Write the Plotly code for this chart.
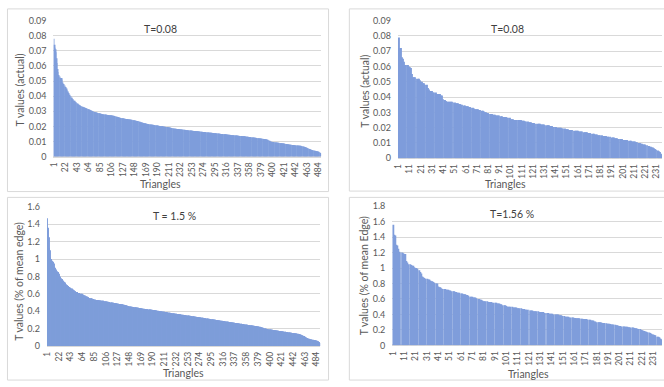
import plotly.graph_objects as go

# ---------------- data ----------------
# Top-left: T values (actual), ~488 triangles, T=0.08
t_actual_a = [
    0.078, 0.074, 0.072, 0.071, 0.069, 0.065, 0.062, 0.058, 0.056, 0.054,
    0.053, 0.053, 0.052, 0.052, 0.052, 0.051, 0.049, 0.048, 0.048, 0.047,
    0.047, 0.046, 0.045, 0.045, 0.044, 0.043, 0.043, 0.042, 0.041, 0.041,
    0.040, 0.040, 0.039, 0.039, 0.038, 0.038, 0.037, 0.037, 0.037, 0.0365,
    0.036, 0.036, 0.0355, 0.035, 0.035, 0.0345, 0.034, 0.034, 0.034, 0.0335,
    0.0333, 0.0331, 0.033, 0.0328, 0.0327, 0.0325, 0.0324, 0.0322, 0.0321, 0.032,
    0.0318, 0.0316, 0.0315, 0.0313, 0.0311, 0.031, 0.0308, 0.0306, 0.0305, 0.0303,
    0.0301, 0.030, 0.0298, 0.0297, 0.0295, 0.0294, 0.0293, 0.0292, 0.0291, 0.029,
    0.0289, 0.0288, 0.0287, 0.0286, 0.0285, 0.0284, 0.0283, 0.0282, 0.0281, 0.028,
    0.028, 0.0279, 0.0279, 0.0278, 0.0278, 0.0277, 0.0277, 0.0276, 0.0276, 0.0275,
    0.0275, 0.0274, 0.0274, 0.0273, 0.0273, 0.0272, 0.0272, 0.0271, 0.0271, 0.027,
    0.0269, 0.0268, 0.0266, 0.0265, 0.0264, 0.0263, 0.0262, 0.0261, 0.026, 0.0258,
    0.0257, 0.0257, 0.0256, 0.0255, 0.0254, 0.0254, 0.0253, 0.0252, 0.0251, 0.0251,
    0.025, 0.0249, 0.0249, 0.0248, 0.0248, 0.0247, 0.0246, 0.0246, 0.0245, 0.0245,
    0.0244, 0.0243, 0.0243, 0.0242, 0.0241, 0.0241, 0.024, 0.0239, 0.0238, 0.0237,
    0.0237, 0.0236, 0.0236, 0.0235, 0.0235, 0.0233, 0.0231, 0.023, 0.0228, 0.0227,
    0.0226, 0.0225, 0.0224, 0.0223, 0.0222, 0.0221, 0.022, 0.0219, 0.0218, 0.0217,
    0.0216, 0.0216, 0.0215, 0.0214, 0.0214, 0.0213, 0.0212, 0.0212, 0.0211, 0.0211,
    0.021, 0.021, 0.0209, 0.0209, 0.0208, 0.0207, 0.0207, 0.0206, 0.0206, 0.0205,
    0.0204, 0.0204, 0.0203, 0.0203, 0.0202, 0.0201, 0.0201, 0.020, 0.020, 0.0199,
    0.0198, 0.0198, 0.0197, 0.0197, 0.0196, 0.0196, 0.0195, 0.0195, 0.0194, 0.0194,
    0.0193, 0.0192, 0.0192, 0.0191, 0.019, 0.0189, 0.0188, 0.0187, 0.0186, 0.0185,
    0.0185, 0.0184, 0.0184, 0.0184, 0.0183, 0.0183, 0.0182, 0.0182, 0.0181, 0.0181,
    0.0181, 0.018, 0.018, 0.0179, 0.0179, 0.0178, 0.0178, 0.0177, 0.0177, 0.0176,
    0.0176, 0.0176, 0.0175, 0.0175, 0.0174, 0.0174, 0.0173, 0.0173, 0.0173, 0.0172,
    0.0172, 0.0171, 0.0171, 0.0171, 0.017, 0.017, 0.017, 0.0169, 0.0169, 0.0169,
    0.0168, 0.0168, 0.0167, 0.0167, 0.0166, 0.0166, 0.0166, 0.0165, 0.0165, 0.0164,
    0.0164, 0.0163, 0.0163, 0.0163, 0.0162, 0.0162, 0.0162, 0.0161, 0.0161, 0.016,
    0.016, 0.0159, 0.0159, 0.0158, 0.0158, 0.0158, 0.0157, 0.0157, 0.0157, 0.0156,
    0.0156, 0.0156, 0.0155, 0.0155, 0.0155, 0.0154, 0.0154, 0.0153, 0.0153, 0.0152,
    0.0152, 0.0151, 0.0151, 0.0151, 0.015, 0.015, 0.0149, 0.0149, 0.0149, 0.0148,
    0.0148, 0.0148, 0.0147, 0.0147, 0.0146, 0.0146, 0.0146, 0.0145, 0.0145, 0.0144,
    0.0144, 0.0143, 0.0143, 0.0143, 0.0142, 0.0142, 0.0142, 0.0141, 0.0141, 0.0141,
    0.014, 0.014, 0.0139, 0.0139, 0.0139, 0.0138, 0.0138, 0.0138, 0.0137, 0.0137,
    0.0137, 0.0136, 0.0136, 0.0136, 0.0135, 0.0135, 0.0135, 0.0134, 0.0134, 0.0133,
    0.0133, 0.0132, 0.0132, 0.0131, 0.0131, 0.013, 0.013, 0.0129, 0.0129, 0.0128,
    0.0128, 0.0127, 0.0127, 0.0126, 0.0126, 0.0125, 0.0125, 0.0124, 0.0124, 0.0123,
    0.0123, 0.0122, 0.0122, 0.0121, 0.0121, 0.012, 0.012, 0.0119, 0.0119, 0.0118,
    0.0118, 0.0118, 0.0117, 0.0117, 0.0116, 0.0116, 0.0115, 0.0114, 0.0113, 0.0112,
    0.0111, 0.011, 0.0107, 0.0104, 0.0101, 0.0099, 0.0098, 0.0098, 0.0097, 0.0097,
    0.0096, 0.0096, 0.0095, 0.0095, 0.0094, 0.0093, 0.0093, 0.0092, 0.0092, 0.0091,
    0.0091, 0.009, 0.009, 0.0089, 0.0089, 0.0088, 0.0088, 0.0087, 0.0087, 0.0086,
    0.0086, 0.0085, 0.0084, 0.0084, 0.0083, 0.0082, 0.0082, 0.0081, 0.008, 0.008,
    0.0079, 0.0079, 0.0078, 0.0078, 0.0077, 0.0077, 0.0076, 0.0076, 0.0075, 0.0075,
    0.0075, 0.0074, 0.0074, 0.0074, 0.0073, 0.0073, 0.0072, 0.0072, 0.0072, 0.0071,
    0.0071, 0.007, 0.0069, 0.0068, 0.0067, 0.0066, 0.0065, 0.0064, 0.0063, 0.0061,
    0.006, 0.0058, 0.0057, 0.0055, 0.0054, 0.0052, 0.005, 0.0048, 0.0047, 0.0045,
    0.0044, 0.0043, 0.0042, 0.0041, 0.004, 0.0039, 0.0038, 0.0037, 0.0037, 0.0036,
    0.0035, 0.0034, 0.0033, 0.0032, 0.003, 0.0027, 0.0024, 0.002,
]

# Top-right: T values (actual), ~238 triangles, T=0.08
t_actual_b = [
    0.079, 0.072, 0.072, 0.066, 0.065, 0.063, 0.061, 0.061, 0.061, 0.060,
    0.0595, 0.059, 0.055, 0.053, 0.053, 0.053, 0.052, 0.052, 0.052, 0.051,
    0.050, 0.050, 0.049, 0.049, 0.048, 0.048, 0.046, 0.045, 0.044, 0.044,
    0.044, 0.043, 0.043, 0.043, 0.042, 0.042, 0.042, 0.042, 0.041, 0.041,
    0.0385, 0.038, 0.0375, 0.037, 0.037, 0.037, 0.037, 0.037, 0.037, 0.0365,
    0.0365, 0.036, 0.036, 0.036, 0.0355, 0.0355, 0.035, 0.035, 0.0345, 0.0345,
    0.034, 0.034, 0.034, 0.0335, 0.0335, 0.033, 0.033, 0.0325, 0.032, 0.032,
    0.032, 0.032, 0.0315, 0.0315, 0.031, 0.031, 0.0305, 0.030, 0.030, 0.0295,
    0.0295, 0.029, 0.029, 0.029, 0.0285, 0.0285, 0.0285, 0.028, 0.028, 0.028,
    0.028, 0.0275, 0.0275, 0.027, 0.027, 0.027, 0.027, 0.0265, 0.0265, 0.0265,
    0.0255, 0.0255, 0.0255, 0.025, 0.025, 0.025, 0.025, 0.025, 0.025, 0.025,
    0.0245, 0.0245, 0.0245, 0.024, 0.024, 0.024, 0.0235, 0.0235, 0.0235, 0.023,
    0.023, 0.023, 0.0225, 0.0225, 0.0225, 0.0225, 0.0225, 0.022, 0.022, 0.022,
    0.022, 0.0215, 0.0215, 0.0215, 0.0215, 0.021, 0.021, 0.021, 0.0205, 0.0205,
    0.0205, 0.020, 0.020, 0.020, 0.020, 0.020, 0.0195, 0.0195, 0.0195, 0.019,
    0.019, 0.019, 0.0185, 0.0185, 0.0185, 0.0185, 0.018, 0.018, 0.018, 0.018,
    0.018, 0.0175, 0.0175, 0.0175, 0.0175, 0.017, 0.017, 0.017, 0.017, 0.0165,
    0.0165, 0.0165, 0.016, 0.016, 0.016, 0.0155, 0.0155, 0.0155, 0.015, 0.015,
    0.015, 0.015, 0.0145, 0.0145, 0.0145, 0.0145, 0.014, 0.014, 0.014, 0.014,
    0.0135, 0.0135, 0.0135, 0.013, 0.013, 0.013, 0.0125, 0.0125, 0.0125, 0.0125,
    0.012, 0.012, 0.012, 0.012, 0.012, 0.0115, 0.0115, 0.0115, 0.011, 0.011,
    0.011, 0.011, 0.0105, 0.0105, 0.010, 0.010, 0.0095, 0.0095, 0.009, 0.009,
    0.009, 0.0085, 0.0085, 0.008, 0.0075, 0.0075, 0.007, 0.007, 0.0065, 0.006,
    0.0055, 0.005, 0.0045, 0.004, 0.003, 0.0025, 0.002, 0.0015,
]

# Bottom-left: T values (% of mean edge), ~490 triangles, T = 1.5 %
t_pct_a = [
    1.47, 1.36, 1.34, 1.25, 1.13, 1.10, 1.02, 1.00, 0.99, 0.98,
    0.97, 0.96, 0.95, 0.91, 0.90, 0.89, 0.88, 0.86, 0.85, 0.85,
    0.84, 0.83, 0.81, 0.80, 0.79, 0.78, 0.77, 0.76, 0.75, 0.75,
    0.74, 0.73, 0.73, 0.72, 0.71, 0.70, 0.70, 0.69, 0.69, 0.68,
    0.68, 0.67, 0.67, 0.66, 0.66, 0.65, 0.65, 0.64, 0.64, 0.63,
    0.63, 0.63, 0.62, 0.62, 0.62, 0.61, 0.61, 0.61, 0.61, 0.60,
    0.60, 0.60, 0.60, 0.59, 0.59, 0.59, 0.58, 0.58, 0.58, 0.57,
    0.57, 0.57, 0.56, 0.56, 0.56, 0.55, 0.55, 0.55, 0.55, 0.545,
    0.545, 0.54, 0.54, 0.54, 0.535, 0.535, 0.535, 0.53, 0.53, 0.53,
    0.53, 0.525, 0.525, 0.525, 0.525, 0.525, 0.52, 0.52, 0.52, 0.52,
    0.52, 0.52, 0.515, 0.515, 0.515, 0.515, 0.51, 0.51, 0.51, 0.51,
    0.505, 0.505, 0.505, 0.50, 0.50, 0.50, 0.50, 0.499, 0.498, 0.497,
    0.496, 0.495, 0.493, 0.491, 0.489, 0.488, 0.487, 0.486, 0.485, 0.484,
    0.483, 0.482, 0.481, 0.480, 0.479, 0.478, 0.477, 0.476, 0.474, 0.472,
    0.470, 0.468, 0.466, 0.464, 0.462, 0.460, 0.458, 0.456, 0.455, 0.454,
    0.453, 0.452, 0.451, 0.450, 0.449, 0.448, 0.447, 0.446, 0.445, 0.444,
    0.443, 0.442, 0.441, 0.440, 0.439, 0.438, 0.437, 0.436, 0.434, 0.432,
    0.431, 0.430, 0.429, 0.428, 0.427, 0.426, 0.425, 0.424, 0.424, 0.423,
    0.422, 0.421, 0.421, 0.420, 0.420, 0.419, 0.418, 0.417, 0.417, 0.415,
    0.414, 0.413, 0.413, 0.411, 0.410, 0.409, 0.408, 0.407, 0.406, 0.405,
    0.404, 0.403, 0.401, 0.400, 0.399, 0.398, 0.397, 0.397, 0.396, 0.395,
    0.393, 0.392, 0.391, 0.390, 0.389, 0.388, 0.387, 0.385, 0.384, 0.383,
    0.382, 0.381, 0.380, 0.378, 0.377, 0.376, 0.375, 0.374, 0.373, 0.372,
    0.372, 0.371, 0.370, 0.369, 0.368, 0.367, 0.366, 0.365, 0.364, 0.363,
    0.362, 0.361, 0.360, 0.359, 0.358, 0.357, 0.356, 0.355, 0.354, 0.353,
    0.352, 0.352, 0.351, 0.350, 0.349, 0.348, 0.347, 0.346, 0.345, 0.344,
    0.343, 0.342, 0.341, 0.340, 0.339, 0.338, 0.337, 0.336, 0.335, 0.334,
    0.333, 0.332, 0.331, 0.330, 0.329, 0.328, 0.327, 0.326, 0.325, 0.324,
    0.323, 0.322, 0.321, 0.320, 0.319, 0.318, 0.317, 0.316, 0.315, 0.314,
    0.313, 0.312, 0.311, 0.310, 0.309, 0.308, 0.307, 0.306, 0.305, 0.304,
    0.303, 0.302, 0.301, 0.300, 0.299, 0.298, 0.297, 0.296, 0.295, 0.294,
    0.293, 0.292, 0.291, 0.290, 0.289, 0.288, 0.287, 0.286, 0.285, 0.284,
    0.283, 0.282, 0.281, 0.280, 0.279, 0.278, 0.277, 0.276, 0.275, 0.274,
    0.273, 0.272, 0.271, 0.270, 0.269, 0.268, 0.267, 0.266, 0.265, 0.264,
    0.263, 0.262, 0.261, 0.260, 0.259, 0.258, 0.257, 0.256, 0.255, 0.254,
    0.253, 0.252, 0.251, 0.250, 0.249, 0.248, 0.247, 0.246, 0.245, 0.244,
    0.243, 0.242, 0.241, 0.240, 0.239, 0.238, 0.237, 0.236, 0.235, 0.234,
    0.233, 0.232, 0.231, 0.230, 0.229, 0.228, 0.227, 0.226, 0.225, 0.224,
    0.222, 0.221, 0.219, 0.217, 0.215, 0.213, 0.211, 0.209, 0.207, 0.205,
    0.203, 0.201, 0.199, 0.198, 0.196, 0.195, 0.194, 0.193, 0.192, 0.191,
    0.190, 0.189, 0.188, 0.187, 0.186, 0.185, 0.184, 0.183, 0.182, 0.181,
    0.180, 0.179, 0.178, 0.177, 0.176, 0.175, 0.174, 0.173, 0.172, 0.171,
    0.170, 0.169, 0.168, 0.167, 0.166, 0.165, 0.164, 0.163, 0.162, 0.161,
    0.160, 0.159, 0.158, 0.157, 0.156, 0.155, 0.154, 0.153, 0.152, 0.151,
    0.150, 0.149, 0.148, 0.147, 0.146, 0.145, 0.144, 0.143, 0.142, 0.141,
    0.140, 0.138, 0.136, 0.134, 0.132, 0.130, 0.127, 0.124, 0.121, 0.118,
    0.115, 0.111, 0.107, 0.103, 0.099, 0.095, 0.092, 0.089, 0.086, 0.083,
    0.081, 0.079, 0.077, 0.075, 0.074, 0.073, 0.072, 0.071, 0.070, 0.069,
    0.068, 0.066, 0.064, 0.062, 0.060, 0.056, 0.051, 0.046, 0.041, 0.036,
]

# Bottom-right: T values (% of mean Edge), ~238 triangles, T=1.56 %
t_pct_b = [
    1.56, 1.43, 1.42, 1.30, 1.29, 1.25, 1.21, 1.20, 1.20, 1.19,
    1.18, 1.18, 1.09, 1.07, 1.05, 1.05, 1.04, 1.03, 1.03, 1.01,
    1.00, 1.00, 0.99, 0.97, 0.95, 0.93, 0.89, 0.88, 0.87, 0.86,
    0.86, 0.85, 0.85, 0.84, 0.83, 0.83, 0.82, 0.81, 0.80, 0.80,
    0.76, 0.75, 0.75, 0.74, 0.73, 0.73, 0.73, 0.72, 0.72, 0.72,
    0.71, 0.71, 0.70, 0.70, 0.70, 0.69, 0.69, 0.68, 0.68, 0.68,
    0.67, 0.67, 0.66, 0.66, 0.66, 0.65, 0.65, 0.64, 0.63, 0.63,
    0.63, 0.62, 0.62, 0.62, 0.61, 0.60, 0.60, 0.59, 0.59, 0.58,
    0.57, 0.57, 0.57, 0.57, 0.56, 0.56, 0.56, 0.56, 0.55, 0.55,
    0.55, 0.55, 0.54, 0.54, 0.54, 0.53, 0.53, 0.52, 0.52, 0.52,
    0.51, 0.50, 0.50, 0.50, 0.50, 0.50, 0.49, 0.49, 0.49, 0.49,
    0.48, 0.48, 0.48, 0.48, 0.47, 0.47, 0.47, 0.46, 0.46, 0.46,
    0.46, 0.45, 0.45, 0.45, 0.44, 0.44, 0.44, 0.44, 0.44, 0.43,
    0.43, 0.43, 0.43, 0.43, 0.42, 0.42, 0.42, 0.42, 0.41, 0.41,
    0.41, 0.41, 0.40, 0.40, 0.40, 0.40, 0.40, 0.39, 0.39, 0.39,
    0.38, 0.38, 0.37, 0.37, 0.37, 0.37, 0.36, 0.36, 0.36, 0.36,
    0.355, 0.355, 0.35, 0.35, 0.35, 0.35, 0.345, 0.345, 0.34, 0.34,
    0.34, 0.34, 0.335, 0.33, 0.33, 0.32, 0.32, 0.32, 0.31, 0.31,
    0.30, 0.30, 0.30, 0.30, 0.295, 0.29, 0.29, 0.29, 0.285, 0.28,
    0.28, 0.28, 0.275, 0.27, 0.27, 0.27, 0.265, 0.26, 0.26, 0.255,
    0.25, 0.25, 0.245, 0.245, 0.245, 0.24, 0.24, 0.24, 0.235, 0.235,
    0.23, 0.23, 0.23, 0.225, 0.22, 0.22, 0.215, 0.21, 0.21, 0.20,
    0.195, 0.19, 0.185, 0.18, 0.175, 0.17, 0.165, 0.16, 0.15, 0.14,
    0.14, 0.135, 0.13, 0.11, 0.11, 0.105, 0.09, 0.08,
]

# tick labels
ticks_every21 = [1, 22, 43, 64, 85, 106, 127, 148, 169, 190, 211, 232, 253,
                 274, 295, 316, 337, 358, 379, 400, 421, 442, 463, 484]
ticks_every10 = [1, 11, 21, 31, 41, 51, 61, 71, 81, 91, 101, 111, 121, 131,
                 141, 151, 161, 171, 181, 191, 201, 211, 221, 231]
y_ticks_actual = [0, 0.01, 0.02, 0.03, 0.04, 0.05, 0.06, 0.07, 0.08, 0.09]
y_ticks_pct_a = [0, 0.2, 0.4, 0.6, 0.8, 1, 1.2, 1.4, 1.6]
y_ticks_pct_b = [0, 0.2, 0.4, 0.6, 0.8, 1, 1.2, 1.4, 1.6, 1.8]

titles = ["T=0.08", "T=0.08", "T = 1.5 %", "T=1.56 %"]
ytitles = ["T values (actual)", "T values (actual)",
           "T values (% of mean edge)", "T values (% of mean Edge)"]
xtitle = "Triangles"

# ---------------- layout helpers ----------------
W, H = 664, 387
FONT = "Lato, Carlito, Calibri, 'Open Sans', sans-serif"
BAR = "#7F9DDB"
GRID = "#D9D9D9"
TICKC = "#595959"


def px_x(v):
    return v / W


def px_y(v):
    return 1 - v / H


panels = [
    dict(y=t_actual_a, xt=ticks_every21, yt=y_ticks_actual, yr=[0, 0.09],
         xd=(49.0, 319.5), yd=(15.0, 155.0), xr=[0.5, 488.5]),
    dict(y=t_actual_b, xt=ticks_every10, yt=y_ticks_actual, yr=[0, 0.09],
         xd=(397.1, 664.0), yd=(15.0, 156.7), xr=[0.5, 236.0]),
    dict(y=t_pct_a, xt=ticks_every21, yt=y_ticks_pct_a, yr=[0, 1.6],
         xd=(42.4, 318.6), yd=(206.7, 350.0), xr=[0.5, 490.5]),
    dict(y=t_pct_b, xt=ticks_every10, yt=y_ticks_pct_b, yr=[0, 1.8],
         xd=(391.4, 664.0), yd=(206.0, 349.3), xr=[0.5, 238.6]),
]

fig = go.Figure()
layout = dict(
    width=W, height=H, autosize=False,
    margin=dict(l=0, r=0, t=0, b=0),
    paper_bgcolor="white", plot_bgcolor="white",
    showlegend=False, bargap=0.12,
    font=dict(family=FONT, color=TICKC, size=9),
)

for k, p in enumerate(panels):
    n = k + 1
    xa = "x" if n == 1 else f"x{n}"
    ya = "y" if n == 1 else f"y{n}"
    cats = list(range(1, len(p["y"]) + 1))
    fig.add_trace(go.Bar(x=cats, y=p["y"], xaxis=xa, yaxis=ya,
                         marker=dict(color=BAR, line=dict(width=0))))
    layout[f"xaxis{'' if n == 1 else n}"] = dict(
        domain=[px_x(p["xd"][0]), px_x(p["xd"][1])], anchor=ya,
        range=p["xr"], tickmode="array", tickvals=p["xt"],
        ticktext=[str(t) for t in p["xt"]], tickangle=-90,
        showgrid=False, zeroline=False, showline=False, ticks="",
        tickfont=dict(size=8.5, color=TICKC, family=FONT),
        ticklabelstandoff=3,
    )
    layout[f"yaxis{'' if n == 1 else n}"] = dict(
        domain=[px_y(p["yd"][1]), px_y(p["yd"][0])], anchor=xa,
        range=p["yr"], tickmode="array", tickvals=p["yt"],
        ticktext=[f"{t:g}" for t in p["yt"]],
        showgrid=True, gridcolor=GRID, gridwidth=1,
        zeroline=True, zerolinecolor=GRID, showline=False, ticks="",
        tickfont=dict(size=9, color=TICKC, family=FONT),
        ticklabelstandoff=6,
    )

fig.update_layout(**layout)

# panel frames (Excel chart areas)
frames = [(2.5, 3.0, 327.0, 191.0), (348.0, 3.0, 670.0, 190.5),
          (2.5, 197.0, 327.0, 385.0), (348.0, 197.0, 670.0, 385.0)]
for x0, y0, x1, y1 in frames:
    fig.add_shape(type="rect", xref="paper", yref="paper",
                  x0=px_x(x0), x1=px_x(x1), y0=px_y(y1), y1=px_y(y0),
                  line=dict(color="#D9D9D9", width=1), fillcolor="rgba(0,0,0,0)",
                  layer="below")

# titles, axis titles
title_pos = [(157, 24), (508, 24), (171.5, 216), (512, 214)]
xtitle_pos = [(157.5, 183), (506, 183), (180.5, 378), (529.5, 379)]
ytitle_pos = [(15, 86), (364, 88), (14, 283), (363, 278)]
for k in range(4):
    tx, ty = title_pos[k]
    fig.add_annotation(text=titles[k], xref="paper", yref="paper",
                       x=px_x(tx), y=px_y(ty), showarrow=False,
                       xanchor="center", yanchor="middle",
                       font=dict(size=10.5, color="#404040", family=FONT))
    ax_, ay_ = xtitle_pos[k]
    fig.add_annotation(text=xtitle, xref="paper", yref="paper",
                       x=px_x(ax_), y=px_y(ay_), showarrow=False,
                       xanchor="center", yanchor="middle",
                       font=dict(size=10.5, color=TICKC, family=FONT))
    bx, by = ytitle_pos[k]
    fig.add_annotation(text=ytitles[k], xref="paper", yref="paper",
                       x=px_x(bx), y=px_y(by), showarrow=False, textangle=-90,
                       xanchor="center", yanchor="middle",
                       font=dict(size=10.5, color=TICKC, family=FONT))

fig.write_html(
    "out.html",
    config={"displayModeBar": False},
    post_script="document.body.style.margin='0px';document.body.style.overflow='hidden';",
)
